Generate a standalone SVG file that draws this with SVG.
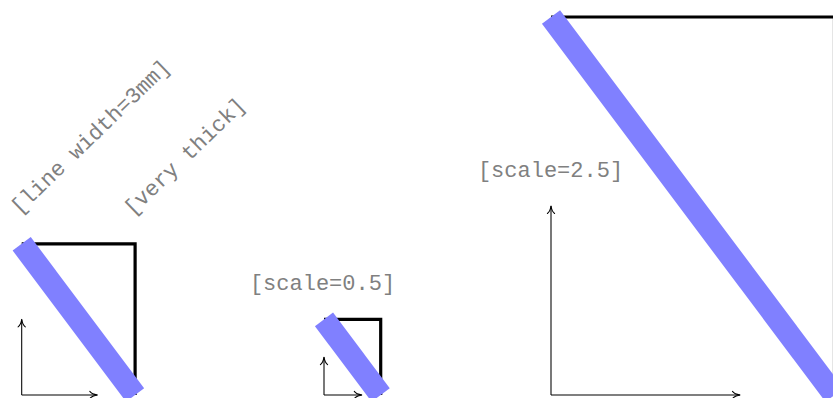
<svg xmlns="http://www.w3.org/2000/svg" width="833" height="398" viewBox="0 0 833 398">
<style>
.ax{fill:none;stroke:#000;stroke-width:1.06;marker-end:url(#to)}
.rect{fill:none;stroke:#000;stroke-width:3.2;stroke-linejoin:miter}
.blue{fill:none;stroke:#8080ff;stroke-width:22.6;stroke-linecap:butt}
.lbl{font-family:"Liberation Mono","Courier New",monospace;font-size:22px;fill:#808080;text-anchor:middle}
</style>
<defs>
<marker id="to" markerUnits="userSpaceOnUse" markerWidth="12" markerHeight="12" viewBox="-10 -6 12 12" refX="0" refY="0" orient="auto" overflow="visible">
<path d="M-7.5,-3.6 C-6,-1.6 -2.5,-0.4 0,0 C-2.5,0.4 -6,1.6 -7.5,3.6" fill="none" stroke="#000" stroke-width="1.06" stroke-linecap="round" stroke-linejoin="round"/>
</marker>
</defs>
<g id="pic-default">
<path class="rect" d="M21.7,243.8 H135.1 V395"/>
<line class="blue" x1="21.7" y1="243.8" x2="135.1" y2="395"/>
<text class="lbl" transform="translate(95.2,141.9) rotate(-44)">[line width=3mm]</text>
<text class="lbl" transform="translate(189.5,161.5) rotate(-44)">[very thick]</text>
</g>
<g id="pic-half">
<path class="rect" d="M324,319.4 H380.7 V395"/>
<line class="blue" x1="324" y1="319.4" x2="380.7" y2="395"/>
<text class="lbl" x="322.5" y="290">[scale=0.5]</text>
</g>
<g id="pic-big">
<path class="rect" d="M551,17 H834.5 V395"/>
<line class="blue" x1="551" y1="17" x2="834.5" y2="395"/>
<text class="lbl" x="550.5" y="177">[scale=2.5]</text>
</g>
<g id="connectors">
<path class="ax" d="M21.7,395 H97.3"/>
<path class="ax" d="M21.7,395 V319.4"/>
<path class="ax" d="M324,395 H361.8"/>
<path class="ax" d="M324,395 V357.2"/>
<path class="ax" d="M551,395 H740"/>
<path class="ax" d="M551,395 V206"/>
</g>
</svg>
